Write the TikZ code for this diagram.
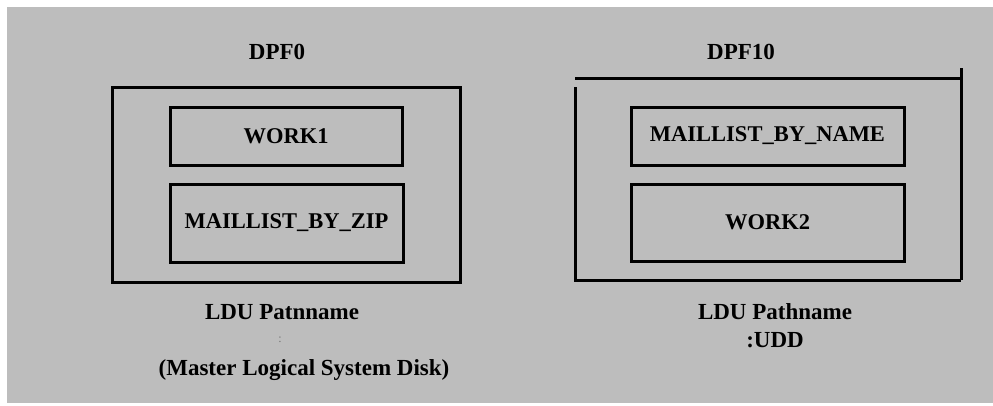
\documentclass[tikz,border=0pt]{standalone}
\usepackage{fontspec}
\setmainfont{Liberation Serif}
\usepackage{xcolor}
\usepackage{tikz}
\definecolor{screenGray}{HTML}{BDBDBD}
\tikzset{
  dpfLabel/.style={font=\fontsize{23}{27}\selectfont\bfseries, inner sep=0pt},
  lduBox/.style={draw=black, line width=3pt, inner sep=0pt, font=\fontsize{22.5}{27}\selectfont\bfseries},
  diskLine/.style={line width=3pt}
}

\begin{document}
\begin{tikzpicture}[x=1pt,y=-1pt,outer sep=0pt]
\useasboundingbox (0,0) rectangle (993,405);
\fill[white] (0,0) rectangle (993,405);
\fill[screenGray] (7,7) rectangle (993,403);

% left disk
\node[dpfLabel] (dpfZero) at (277,52) {DPF0};
\draw[diskLine] (112,87) rectangle (460,282);
\node[
lduBox,
minimum width=232pt,
minimum height=58pt,
] (workOne) at (286,136) {WORK1};
\node[
lduBox,
minimum width=233pt,
minimum height=78pt,
] (zipList) at (286.5,223) {MAILLIST\_BY\_ZIP};
\node[dpfLabel] (patnLeft) at (282,312) {LDU Patnname};
\node[dpfLabel, font=\fontsize{12}{14}\selectfont, text=black!55] (colonLeft) at (280,340) {:};
\node[dpfLabel] (masterDisk) at (304,370) {(Master Logical System Disk)};

% right disk
\node[dpfLabel] (dpfTen) at (741,52) {DPF10};
\draw[diskLine] (575,78) -- (961,78);
\draw[diskLine] (575,87) -- (575,280) -- (961,280);
\draw[diskLine] (961,68) -- (961,280);
\node[
lduBox,
minimum width=273pt,
minimum height=58pt,
] (nameList) at (767.5,136) {MAILLIST\_BY\_NAME};
\node[
lduBox,
minimum width=273pt,
minimum height=77pt,
] (workTwo) at (767.5,222.5) {WORK2};
\node[dpfLabel] (pathRight) at (775,312) {LDU Pathname};
\node[dpfLabel] (uddRight) at (775,340) {:UDD};
\end{tikzpicture}
\end{document}
